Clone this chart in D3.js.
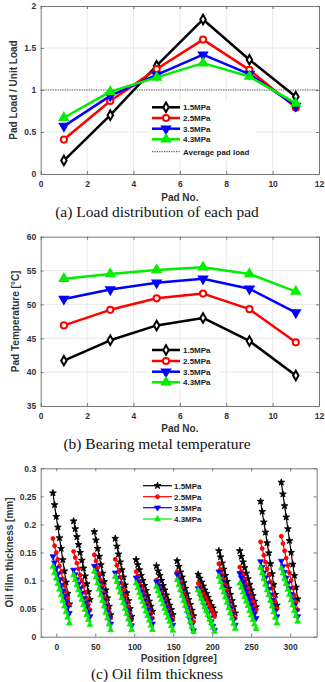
<!DOCTYPE html>
<html>
<head>
<meta charset="utf-8">
<style>
  * { margin: 0; padding: 0; }
  body { background: #fff; width: 325px; height: 682px; overflow: hidden; }
  svg { display: block; }
</style>
</head>
<body>
<div id="chart"></div>
<script src="https://cdn.jsdelivr.net/npm/d3@7"></script>
<script>
// ---- data ----
const seriesNames = ['1.5MPa', '2.5MPa', '3.5MPa', '4.3MPa'];
const seriesColors = ['#000000', '#ff0000', '#0000ff', '#00ee00'];

// (a) load distribution
const padNo = [1, 3, 5, 7, 9, 11];
const loadP15 = [0.16, 0.70, 1.29, 1.84, 1.36, 0.92];
const loadP25 = [0.41, 0.87, 1.25, 1.60, 1.24, 0.79];
const loadP35 = [0.57, 0.93, 1.18, 1.42, 1.19, 0.81];
const loadP43 = [0.67, 0.98, 1.15, 1.32, 1.16, 0.84];
const averageLoad = 1;

// (b) metal temperature
const tempP15 = [41.7, 44.7, 46.9, 48.0, 44.6, 39.5];
const tempP25 = [46.9, 49.2, 50.9, 51.6, 49.3, 44.4];
const tempP35 = [50.8, 52.2, 53.2, 53.8, 52.3, 48.8];
const tempP43 = [53.8, 54.5, 55.1, 55.5, 54.5, 51.9];

// (c) oil film thickness, one row per pad
const padStart = [-4.3, 22.2, 48.8, 75.6, 102.4, 128.5, 155, 182, 208.5, 235.3, 262, 288.6];
const pointOffset = [0, 2.1, 4.2, 6.3, 8.4, 10.5, 12.6, 14.7, 16.8, 18.9, 21];
const filmP15 = [
  [0.256, 0.235, 0.214, 0.195, 0.176, 0.157, 0.137, 0.117, 0.097, 0.077, 0.058],
  [0.206, 0.192, 0.178, 0.164, 0.150, 0.136, 0.122, 0.108, 0.094, 0.080, 0.066],
  [0.187, 0.172, 0.157, 0.143, 0.128, 0.113, 0.098, 0.083, 0.069, 0.054, 0.039],
  [0.175, 0.161, 0.147, 0.133, 0.119, 0.106, 0.092, 0.078, 0.064, 0.050, 0.036],
  [0.137, 0.128, 0.119, 0.109, 0.100, 0.091, 0.082, 0.073, 0.063, 0.054, 0.045],
  [0.126, 0.117, 0.109, 0.100, 0.091, 0.083, 0.074, 0.065, 0.056, 0.048, 0.039],
  [0.135, 0.125, 0.115, 0.106, 0.096, 0.086, 0.076, 0.066, 0.057, 0.047, 0.037],
  [0.111, 0.104, 0.097, 0.090, 0.083, 0.077, 0.070, 0.063, 0.055, 0.051, 0.042],
  [0.153, 0.142, 0.131, 0.120, 0.109, 0.098, 0.086, 0.075, 0.064, 0.053, 0.042],
  [0.153, 0.143, 0.133, 0.123, 0.113, 0.103, 0.093, 0.083, 0.073, 0.063, 0.053],
  [0.241, 0.223, 0.204, 0.186, 0.167, 0.149, 0.130, 0.112, 0.093, 0.075, 0.056],
  [0.275, 0.254, 0.233, 0.213, 0.192, 0.171, 0.150, 0.129, 0.109, 0.088, 0.067]
];
const filmP25 = [
  [0.175, 0.162, 0.150, 0.138, 0.126, 0.115, 0.103, 0.091, 0.080, 0.068, 0.056],
  [0.152, 0.141, 0.131, 0.121, 0.110, 0.100, 0.090, 0.079, 0.069, 0.058, 0.048],
  [0.146, 0.135, 0.123, 0.112, 0.101, 0.090, 0.078, 0.067, 0.056, 0.044, 0.033],
  [0.138, 0.127, 0.116, 0.106, 0.095, 0.084, 0.073, 0.062, 0.052, 0.041, 0.030],
  [0.116, 0.108, 0.099, 0.091, 0.083, 0.075, 0.066, 0.058, 0.050, 0.041, 0.033],
  [0.101, 0.094, 0.087, 0.080, 0.073, 0.066, 0.058, 0.051, 0.044, 0.037, 0.030],
  [0.116, 0.107, 0.098, 0.089, 0.080, 0.072, 0.063, 0.054, 0.045, 0.036, 0.027],
  [0.095, 0.089, 0.083, 0.077, 0.071, 0.066, 0.060, 0.054, 0.048, 0.042, 0.036],
  [0.130, 0.120, 0.111, 0.101, 0.091, 0.082, 0.072, 0.062, 0.052, 0.043, 0.033],
  [0.124, 0.116, 0.109, 0.101, 0.094, 0.086, 0.078, 0.071, 0.063, 0.056, 0.048],
  [0.169, 0.157, 0.145, 0.133, 0.121, 0.110, 0.098, 0.086, 0.074, 0.062, 0.050],
  [0.179, 0.166, 0.153, 0.140, 0.127, 0.114, 0.100, 0.087, 0.074, 0.061, 0.048]
];
const filmP35 = [
  [0.143, 0.132, 0.122, 0.112, 0.102, 0.092, 0.082, 0.072, 0.062, 0.052, 0.042],
  [0.119, 0.111, 0.102, 0.094, 0.086, 0.078, 0.069, 0.061, 0.053, 0.044, 0.036],
  [0.126, 0.116, 0.105, 0.095, 0.085, 0.075, 0.064, 0.054, 0.044, 0.033, 0.023],
  [0.114, 0.105, 0.095, 0.086, 0.076, 0.067, 0.058, 0.048, 0.039, 0.029, 0.020],
  [0.105, 0.097, 0.089, 0.080, 0.072, 0.064, 0.056, 0.048, 0.039, 0.031, 0.023],
  [0.098, 0.090, 0.083, 0.075, 0.067, 0.060, 0.052, 0.044, 0.036, 0.029, 0.021],
  [0.111, 0.101, 0.091, 0.081, 0.071, 0.061, 0.051, 0.041, 0.031, 0.021, 0.011],
  [0.086, 0.079, 0.071, 0.064, 0.056, 0.049, 0.042, 0.034, 0.027, 0.019, 0.012],
  [0.116, 0.107, 0.097, 0.088, 0.078, 0.069, 0.059, 0.050, 0.040, 0.031, 0.021],
  [0.113, 0.105, 0.097, 0.089, 0.081, 0.073, 0.065, 0.057, 0.049, 0.041, 0.033],
  [0.134, 0.124, 0.114, 0.105, 0.095, 0.085, 0.075, 0.065, 0.056, 0.046, 0.036],
  [0.135, 0.125, 0.115, 0.105, 0.095, 0.086, 0.076, 0.066, 0.056, 0.046, 0.036]
];
const filmP43 = [
  [0.125, 0.114, 0.104, 0.094, 0.084, 0.074, 0.064, 0.054, 0.044, 0.034, 0.024],
  [0.110, 0.101, 0.092, 0.083, 0.074, 0.066, 0.057, 0.048, 0.039, 0.030, 0.021],
  [0.116, 0.106, 0.095, 0.085, 0.074, 0.064, 0.054, 0.043, 0.033, 0.022, 0.012],
  [0.107, 0.098, 0.088, 0.079, 0.069, 0.060, 0.050, 0.041, 0.031, 0.022, 0.012],
  [0.095, 0.087, 0.078, 0.070, 0.062, 0.054, 0.045, 0.037, 0.029, 0.020, 0.012],
  [0.089, 0.081, 0.073, 0.066, 0.058, 0.050, 0.042, 0.034, 0.027, 0.019, 0.011],
  [0.101, 0.092, 0.083, 0.073, 0.064, 0.055, 0.046, 0.037, 0.027, 0.018, 0.009],
  [0.083, 0.076, 0.068, 0.061, 0.053, 0.046, 0.039, 0.031, 0.024, 0.016, 0.009],
  [0.107, 0.098, 0.088, 0.079, 0.070, 0.061, 0.051, 0.042, 0.033, 0.023, 0.014],
  [0.095, 0.087, 0.079, 0.071, 0.063, 0.055, 0.046, 0.038, 0.030, 0.022, 0.014],
  [0.123, 0.113, 0.103, 0.093, 0.083, 0.074, 0.064, 0.054, 0.044, 0.034, 0.024],
  [0.122, 0.113, 0.103, 0.094, 0.084, 0.075, 0.065, 0.056, 0.046, 0.037, 0.027]
];

// ticks
const padTicks = [0, 2, 4, 6, 8, 10, 12];
const loadTicks = [0, 0.5, 1, 1.5, 2];
const tempTicks = [35, 40, 45, 50, 55, 60];
const posTicks = [0, 50, 100, 150, 200, 250, 300];
const filmTicks = [0, 0.05, 0.1, 0.15, 0.2, 0.25, 0.3];

// ---- drawing ----
const W = 325, H = 682;
const SANS = 'Liberation Sans, Arial, sans-serif';
const SERIF = 'Liberation Serif, Times New Roman, serif';
const svg = d3.select('#chart').append('svg').attr('width', W).attr('height', H);

function drawFrame(p) {
  const x = d3.scaleLinear(p.xDomain, [p.left, p.right]);
  const y = d3.scaleLinear(p.yDomain, [p.bottom, p.top]);
  const g = svg.append('g');

  if (p.grid) {
    const grid = g.append('g').attr('stroke', '#e2e2e2').attr('stroke-width', 0.8);
    p.xTicks.slice(1, -1).forEach(function(t) {
      grid.append('line').attr('x1', x(t)).attr('x2', x(t)).attr('y1', p.top).attr('y2', p.bottom);
    });
    p.yTicks.slice(1, -1).forEach(function(t) {
      grid.append('line').attr('y1', y(t)).attr('y2', y(t)).attr('x1', p.left).attr('x2', p.right);
    });
  }

  const fmt = function(d) { return String(d); };
  const axes = g.append('g').attr('class', 'axes');
  axes.append('g').attr('transform', 'translate(0,' + p.bottom + ')')
    .call(d3.axisBottom(x).tickValues(p.xTicks).tickFormat(fmt).tickSizeInner(-3).tickSizeOuter(0).tickPadding(7));
  axes.append('g').attr('transform', 'translate(' + p.left + ',0)')
    .call(d3.axisLeft(y).tickValues(p.yTicks).tickFormat(fmt).tickSizeInner(-3).tickSizeOuter(0).tickPadding(4.5));
  axes.append('g').attr('transform', 'translate(0,' + p.top + ')')
    .call(d3.axisTop(x).tickValues(p.xTicks).tickFormat('').tickSizeInner(-3).tickSizeOuter(0));
  axes.append('g').attr('transform', 'translate(' + p.right + ',0)')
    .call(d3.axisRight(y).tickValues(p.yTicks).tickFormat('').tickSizeInner(-3).tickSizeOuter(0));
  axes.selectAll('path, line').attr('stroke', '#6a6a6a').attr('stroke-width', 0.9);
  axes.selectAll('text').attr('fill', '#333').attr('font-family', SANS)
    .attr('font-weight', 'bold').attr('font-size', 8.5);

  g.append('text').attr('x', (p.left + p.right) / 2).attr('y', p.xTitleY)
    .attr('text-anchor', 'middle').attr('font-family', SANS).attr('font-weight', 'bold')
    .attr('font-size', 10).attr('fill', '#333').text(p.xTitle);
  g.append('text')
    .attr('transform', 'translate(' + p.yTitleX + ',' + (p.top + p.bottom) / 2 + ') rotate(-90)')
    .attr('text-anchor', 'middle').attr('font-family', SANS).attr('font-weight', 'bold')
    .attr('font-size', 10).attr('fill', '#333').text(p.yTitle);
  g.append('text').attr('x', 157).attr('y', p.captionY)
    .attr('text-anchor', 'middle').attr('font-family', SERIF)
    .attr('font-size', 15.5).attr('fill', '#111').text(p.caption);

  return { x: x, y: y, g: g };
}

// marker styles: big for (a)/(b), small for (c)
function bigMarker(i) {
  if (i === 0) return { type: d3.symbolDiamond, size: 26, rot: 0, fill: '#fff', stroke: '#000', sw: 2 };
  if (i === 1) return { type: d3.symbolCircle, size: 30, rot: 0, fill: '#fff', stroke: '#ff0000', sw: 2 };
  if (i === 2) return { type: d3.symbolTriangle, size: 34, rot: 180, fill: '#0000ff', stroke: '#0000ff', sw: 1.5 };
  return { type: d3.symbolTriangle, size: 34, rot: 0, fill: '#00ee00', stroke: '#00ee00', sw: 1.5 };
}
function smallMarker(i) {
  if (i === 0) return { type: d3.symbolStar, size: 14, rot: 0, fill: '#000', stroke: '#000', sw: 0.9 };
  if (i === 1) return { type: d3.symbolCircle, size: 12, rot: 0, fill: '#ff0000', stroke: '#ff0000', sw: 0.9 };
  if (i === 2) return { type: d3.symbolTriangle, size: 15, rot: 180, fill: '#0000ff', stroke: '#0000ff', sw: 0.7 };
  return { type: d3.symbolTriangle, size: 15, rot: 0, fill: '#00ee00', stroke: '#00ee00', sw: 0.7 };
}
function drawMarker(g, m, cx, cy) {
  g.append('path').attr('d', d3.symbol().type(m.type).size(m.size)())
    .attr('transform', 'translate(' + cx + ',' + cy + ') rotate(' + m.rot + ')')
    .attr('fill', m.fill).attr('stroke', m.stroke).attr('stroke-width', m.sw);
}

function drawSeries(frame, xs, ys, color, marker, lw) {
  const pts = xs.map(function(v, k) { return [v, ys[k]]; });
  const line = d3.line().x(function(d) { return frame.x(d[0]); }).y(function(d) { return frame.y(d[1]); });
  frame.g.append('path').datum(pts).attr('d', line)
    .attr('fill', 'none').attr('stroke', color).attr('stroke-width', lw).attr('stroke-linejoin', 'round');
  pts.forEach(function(d) { drawMarker(frame.g, marker, frame.x(d[0]), frame.y(d[1])); });
}

function drawLegend(opts) {
  const g = svg.append('g');
  g.append('rect').attr('x', opts.x0 - 3).attr('y', opts.rows[0] - 6)
    .attr('width', opts.w).attr('height', opts.rows[opts.rows.length - 1] - opts.rows[0] + 12)
    .attr('fill', '#fff');
  seriesNames.forEach(function(name, i) {
    const yy = opts.rows[i];
    g.append('line').attr('x1', opts.x0).attr('x2', opts.x1).attr('y1', yy).attr('y2', yy)
      .attr('stroke', seriesColors[i]).attr('stroke-width', opts.lw);
    drawMarker(g, opts.marker(i), (opts.x0 + opts.x1) / 2, yy);
    g.append('text').attr('x', opts.tx).attr('y', yy).attr('dy', '0.35em')
      .attr('font-family', SANS).attr('font-weight', 'bold').attr('font-size', 8)
      .attr('fill', '#222').text(name);
  });
  return g;
}

// (a) Load distribution
const fa = drawFrame({
  left: 40.7, right: 319, top: 6, bottom: 174,
  xDomain: [0, 12], yDomain: [0, 2], xTicks: padTicks, yTicks: loadTicks, grid: true,
  xTitle: 'Pad No.', xTitleY: 201, yTitle: 'Pad Load / Unit Load', yTitleX: 17,
  caption: '(a) Load distribution of each pad', captionY: 217
});
fa.g.append('line').attr('x1', fa.x(0)).attr('x2', fa.x(12))
  .attr('y1', fa.y(averageLoad)).attr('y2', fa.y(averageLoad))
  .attr('stroke', '#555').attr('stroke-width', 1.2).attr('stroke-dasharray', '1.2,1.2');
[loadP15, loadP25, loadP35, loadP43].forEach(function(s, i) {
  drawSeries(fa, padNo, s, seriesColors[i], bigMarker(i), 2.5);
});
const legA = drawLegend({ x0: 152, x1: 180, tx: 183, w: 106, lw: 2.5,
  rows: [107.3, 118, 128.7, 139.3, 151.7], marker: bigMarker });
legA.append('line').attr('x1', 152).attr('x2', 180).attr('y1', 151.7).attr('y2', 151.7)
  .attr('stroke', '#555').attr('stroke-width', 1.2).attr('stroke-dasharray', '1.2,1.2');
legA.append('text').attr('x', 183).attr('y', 151.7).attr('dy', '0.35em')
  .attr('font-family', SANS).attr('font-weight', 'bold').attr('font-size', 8)
  .attr('fill', '#222').text('Average pad load');

// (b) Bearing metal temperature
const fb = drawFrame({
  left: 40.7, right: 319, top: 236.7, bottom: 406,
  xDomain: [0, 12], yDomain: [35, 60], xTicks: padTicks, yTicks: tempTicks, grid: true,
  xTitle: 'Pad No.', xTitleY: 431.5, yTitle: 'Pad Temperature [°C]', yTitleX: 19,
  caption: '(b) Bearing metal temperature', captionY: 449
});
[tempP15, tempP25, tempP35, tempP43].forEach(function(s, i) {
  drawSeries(fb, padNo, s, seriesColors[i], bigMarker(i), 2.5);
});
drawLegend({ x0: 152, x1: 180, tx: 183, w: 70, lw: 2.5,
  rows: [350, 361, 371.7, 382.3], marker: bigMarker });

// (c) Oil film thickness
const fc = drawFrame({
  left: 40.7, right: 316.7, top: 468.3, bottom: 636.7,
  xDomain: [-20, 334], yDomain: [0, 0.3], xTicks: posTicks, yTicks: filmTicks, grid: false,
  xTitle: 'Position [dgree]', xTitleY: 661.5, yTitle: 'Oil film thickness [mm]', yTitleX: 12.5,
  caption: '(c) Oil film thickness', captionY: 679
});
[filmP15, filmP25, filmP35, filmP43].forEach(function(series, i) {
  series.forEach(function(vals, p) {
    const xs = pointOffset.map(function(o) { return padStart[p] + o; });
    drawSeries(fc, xs, vals, seriesColors[i], smallMarker(i), 1.2);
  });
});
drawLegend({ x0: 143, x1: 172, tx: 174, w: 64, lw: 1.2,
  rows: [485.7, 496.7, 507.7, 519], marker: smallMarker });
</script>
</body>
</html>
